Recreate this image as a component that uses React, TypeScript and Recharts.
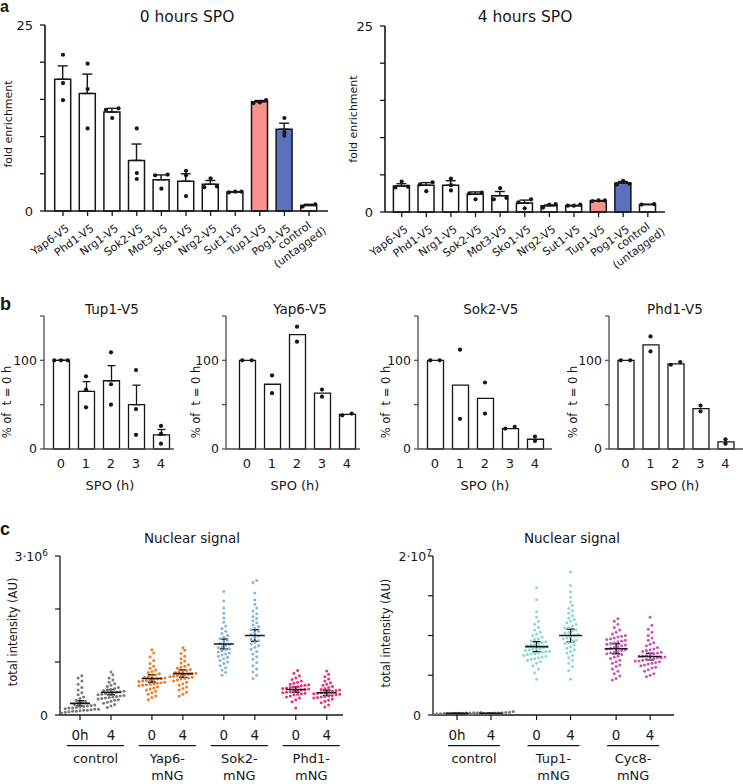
import React from 'react';
import { ComposedChart, ScatterChart, Bar, Scatter, XAxis, YAxis, ErrorBar, Cell } from 'recharts';

const FONT = '"DejaVu Sans", "Liberation Sans", Arial, sans-serif';
const INK = '#161616';
const AXIS_B = '#4a4a4a';

// ---- a: fold enrichment at 0 h and 4 h in SPO
const targets = ['Yap6-V5', 'Phd1-V5', 'Nrg1-V5', 'Sok2-V5', 'Mot3-V5', 'Sko1-V5', 'Nrg2-V5', 'Sut1-V5', 'Tup1-V5', 'Pog1-V5', 'control\n(untagged)'];
const mean0h = [17.7, 15.8, 13.3, 6.8, 4.2, 4.0, 3.6, 2.55, 14.7, 11.0, 0.75];
const sem0h = [1.8, 2.6, 0.5, 2.2, 0.65, 1.0, 0.5, 0.05, 0.15, 0.8, 0.15];
const reps0h = [[21.0, 17.2, 14.9], [19.8, 16.4, 11.1], [13.8, 13.6, 12.5], [11.1, 5.1, 4.3], [4.9, 4.8, 3.0], [5.4, 4.8, 2.0], [4.4, 3.3, 3.2], [2.6, 2.6, 2.5], [14.9, 14.6, 14.5], [12.5, 10.6, 10.1], [0.6, 0.9]];
const mean4h = [3.5, 3.6, 3.6, 2.4, 2.2, 1.2, 0.85, 0.85, 1.5, 3.9, 1.0];
const sem4h = [0.3, 0.35, 0.6, 0.3, 0.55, 0.4, 0.1, 0.05, 0.05, 0.2, 0.03];
const reps4h = [[4.1, 3.4, 3.3], [4.0, 3.7, 2.8], [4.5, 3.6, 2.9], [2.6, 2.5, 1.7], [3.2, 1.9, 1.7], [1.7, 1.3, 0.5], [0.6, 1.0, 1.05], [0.85, 1.0, 0.85], [1.45, 1.55, 1.55], [4.2, 3.8, 3.7], [1.0, 1.05]];

// ---- b: % of t = 0 h over SPO time course
const hours = ['0', '1', '2', '3', '4'];
const tup1Mean = [100, 65, 77, 50, 16];
const tup1Sem = [0, 11, 17, 22, 6];
const tup1Reps = [[100, 100, 100], [82, 67, 47], [109, 73, 50], [89, 45, 16], [26, 17, 6]];
const yap6Mean = [100, 73, 129, 63, 39];
const yap6Reps = [[100, 100], [83, 63], [138, 121], [67, 59], [38, 40]];
const sok2Mean = [100, 72, 57, 23, 11];
const sok2Reps = [[100, 100], [112, 34], [75, 40], [23, 25], [14, 9]];
const phd1Mean = [100, 117.5, 96, 45.5, 8];
const phd1Reps = [[100, 100], [127, 110], [95, 98], [49, 42.5], [11, 6]];

// ---- c: nuclear signal (values in units of 10^6)
const leftTicks = ['0h', '4', '0', '4', '0', '4', '0', '4'];
const leftGroups = ['control', 'Yap6-\nmNG', 'Sok2-\nmNG', 'Phd1-\nmNG'];
const leftMeans = [0.22, 0.43, 0.69, 0.78, 1.34, 1.5, 0.48, 0.42];
const leftSems = [0.05, 0.05, 0.07, 0.07, 0.094, 0.11, 0.05, 0.05];
const ctrl0 = [0.04, 0.05, 0.06, 0.07, 0.07, 0.08, 0.09, 0.09, 0.1, 0.11, 0.11, 0.12, 0.13, 0.13, 0.14, 0.15, 0.16, 0.17, 0.18, 0.19, 0.2, 0.22, 0.24, 0.26, 0.28, 0.31, 0.34, 0.38, 0.42, 0.47, 0.52, 0.58, 0.64, 0.7, 0.74];
const ctrl4 = [0.14, 0.17, 0.2, 0.22, 0.24, 0.26, 0.28, 0.29, 0.3, 0.31, 0.32, 0.33, 0.34, 0.35, 0.36, 0.37, 0.38, 0.39, 0.4, 0.41, 0.42, 0.43, 0.44, 0.45, 0.46, 0.47, 0.48, 0.5, 0.52, 0.54, 0.56, 0.59, 0.62, 0.66, 0.7, 0.76, 0.81];
const yap6c0 = [0.29, 0.33, 0.36, 0.39, 0.42, 0.45, 0.47, 0.49, 0.51, 0.53, 0.55, 0.56, 0.57, 0.58, 0.59, 0.6, 0.61, 0.62, 0.63, 0.64, 0.65, 0.66, 0.67, 0.68, 0.69, 0.7, 0.71, 0.72, 0.74, 0.76, 0.78, 0.8, 0.82, 0.85, 0.88, 0.92, 0.97, 1.03, 1.1, 1.17, 1.23];
const yap6c4 = [0.36, 0.39, 0.43, 0.47, 0.5, 0.53, 0.56, 0.59, 0.62, 0.64, 0.66, 0.68, 0.69, 0.7, 0.71, 0.72, 0.73, 0.74, 0.75, 0.76, 0.77, 0.78, 0.79, 0.8, 0.81, 0.82, 0.84, 0.86, 0.88, 0.9, 0.92, 0.95, 0.98, 1.02, 1.06, 1.11, 1.16, 1.22, 1.27];
const sok2c0 = [0.75, 0.8, 0.85, 0.89, 0.93, 0.97, 1.0, 1.03, 1.06, 1.09, 1.11, 1.13, 1.15, 1.17, 1.19, 1.21, 1.23, 1.25, 1.27, 1.29, 1.31, 1.33, 1.35, 1.38, 1.41, 1.44, 1.47, 1.5, 1.54, 1.58, 1.63, 1.68, 1.75, 1.83, 1.92, 2.02, 2.15, 2.33];
const sok2c4 = [0.69, 0.75, 0.81, 0.87, 0.93, 0.99, 1.05, 1.1, 1.15, 1.2, 1.24, 1.28, 1.31, 1.34, 1.37, 1.4, 1.43, 1.46, 1.49, 1.52, 1.55, 1.58, 1.61, 1.64, 1.67, 1.7, 1.74, 1.78, 1.82, 1.86, 1.91, 1.96, 2.02, 2.09, 2.17, 2.3, 2.5, 2.54];
const phd1c0 = [0.13, 0.25, 0.29, 0.32, 0.34, 0.36, 0.38, 0.39, 0.4, 0.41, 0.42, 0.43, 0.44, 0.45, 0.46, 0.47, 0.48, 0.49, 0.5, 0.51, 0.52, 0.53, 0.54, 0.55, 0.56, 0.57, 0.58, 0.6, 0.62, 0.64, 0.67, 0.7, 0.74, 0.79, 0.84];
const phd1c4 = [0.15, 0.19, 0.23, 0.26, 0.28, 0.3, 0.32, 0.33, 0.34, 0.35, 0.36, 0.37, 0.38, 0.39, 0.4, 0.41, 0.42, 0.43, 0.44, 0.45, 0.46, 0.47, 0.48, 0.5, 0.52, 0.54, 0.56, 0.58, 0.61, 0.64, 0.68, 0.72, 0.77, 0.83];

const rightTicks = ['0h', '4', '0', '4', '0', '4'];
const rightGroups = ['control', 'Tup1-\nmNG', 'Cyc8-\nmNG'];
const rightMeans = [0.2, 0.22, 8.6, 10.0, 8.33, 7.35];
const rightSems = [0.02, 0.02, 0.63, 0.8, 0.63, 0.42];
const ctrlR0 = [0.12, 0.15, 0.18, 0.2, 0.22, 0.24, 0.26, 0.28, 0.3, 0.19, 0.23, 0.27, 0.17, 0.21];
const ctrlR4 = [0.1, 0.13, 0.16, 0.19, 0.22, 0.25, 0.28, 0.31, 0.35, 0.45, 0.2, 0.24, 0.18];
const tup1c0 = [4.5, 5.3, 5.8, 6.2, 6.5, 6.7, 6.9, 7.0, 7.1, 7.2, 7.3, 7.4, 7.5, 7.6, 7.7, 7.7, 7.8, 7.9, 8.0, 8.0, 8.1, 8.2, 8.3, 8.3, 8.4, 8.5, 8.6, 8.7, 8.8, 8.9, 9.0, 9.1, 9.2, 9.3, 9.5, 9.6, 9.8, 10.0, 10.2, 10.4, 10.7, 11.0, 11.4, 11.8, 12.3, 13.0, 14.5, 16.0];
const tup1c4 = [4.5, 5.6, 6.1, 6.5, 6.9, 7.2, 7.5, 7.8, 8.0, 8.2, 8.4, 8.6, 8.8, 9.0, 9.1, 9.3, 9.4, 9.6, 9.7, 9.9, 10.0, 10.1, 10.3, 10.4, 10.6, 10.7, 10.9, 11.0, 11.2, 11.4, 11.6, 11.8, 12.0, 12.2, 12.5, 12.8, 13.1, 13.4, 13.8, 14.2, 14.8, 15.5, 16.3, 18.0];
const cyc8c0 = [4.4, 4.6, 4.9, 5.2, 5.5, 5.8, 6.1, 6.3, 6.5, 6.7, 6.9, 7.1, 7.3, 7.4, 7.6, 7.7, 7.8, 7.9, 8.0, 8.1, 8.2, 8.3, 8.4, 8.5, 8.6, 8.7, 8.8, 8.9, 9.0, 9.1, 9.2, 9.3, 9.4, 9.5, 9.6, 9.7, 9.8, 9.9, 10.0, 10.2, 10.4, 10.7, 11.0, 11.4, 11.8, 12.1];
const cyc8c4 = [4.8, 5.0, 5.2, 5.5, 5.7, 5.9, 6.0, 6.2, 6.3, 6.4, 6.5, 6.6, 6.7, 6.8, 6.8, 6.9, 7.0, 7.0, 7.1, 7.2, 7.2, 7.3, 7.4, 7.4, 7.5, 7.6, 7.7, 7.8, 7.9, 8.0, 8.1, 8.2, 8.3, 8.5, 8.7, 8.9, 9.1, 9.4, 9.7, 10.0, 10.4, 10.8, 11.3, 12.3];

const BAR_FILL: Record<string, string> = { 'Tup1-V5': '#f8928d', 'Pog1-V5': '#5b71bd' };
const LEFT_COLORS = ['#7a7a7a', '#7a7a7a', '#f07c2a', '#f07c2a', '#85b5dc', '#85b5dc', '#e6327a', '#e6327a'];
const RIGHT_COLORS = ['#7a7a7a', '#7a7a7a', '#88dbd0', '#88dbd0', '#c755b7', '#c755b7'];

// GraphPad-like scatter: points whose values fall in the same pixel row are spread sideways
function swarm(vals: number[], pxPerUnit: number, rowH: number, half: (n: number) => number) {
  const order = vals.map((_, i) => i).sort((a, b) => vals[a] - vals[b]);
  const dx = vals.map(() => 0);
  let row: number[] = [];
  let start = 0;
  const flush = () => {
    const n = row.length;
    const w = n > 1 ? half(n) : 0;
    row.forEach((id, k) => { dx[id] = n > 1 ? -w + (2 * w * k) / (n - 1) : 0; });
    row = [];
  };
  for (const id of order) {
    if (row.length && (vals[id] - start) * pxPerUnit >= rowH) flush();
    if (!row.length) start = vals[id];
    row.push(id);
  }
  flush();
  return dx;
}

function barRows(names: string[], means: number[], sems: number[] | null, reps: number[][], ppu: number, half: (n: number) => number) {
  return names.map((name, i) => {
    const dx = swarm(reps[i], ppu, 3.5, half);
    const row: any = { name, mean: means[i] };
    if (sems) row.err = [0, sems[i]];
    reps[i].forEach((v, k) => { row['r' + k] = v; row['d' + k] = dx[k]; });
    return row;
  });
}

const halfA = () => 6.3;
const halfB = (n: number) => (n === 2 ? 4.7 : 6.7);
const rowsA0 = barRows(targets, mean0h, sem0h, reps0h, 186 / 25, halfA);
const rowsA4 = barRows(targets, mean4h, sem4h, reps4h, 186 / 25, halfA);
const ppuB = 133 / 150;
const rowsTup1 = barRows(hours, tup1Mean, tup1Sem, tup1Reps, ppuB, halfB);
const rowsYap6 = barRows(hours, yap6Mean, null, yap6Reps, ppuB, halfB);
const rowsSok2 = barRows(hours, sok2Mean, null, sok2Reps, ppuB, halfB);
const rowsPhd1 = barRows(hours, phd1Mean, null, phd1Reps, ppuB, halfB);

const repDot = (k: number, r: number) => (p: any) => {
  const v = p.payload ? p.payload['r' + k] : undefined;
  if (v == null || !Number.isFinite(p.cy)) return <g />;
  return <circle cx={p.cx + p.payload['d' + k]} cy={p.cy} r={r} fill={INK} />;
};

function RotTick(p: any) {
  const { x, y, payload } = p;
  const lines = String(payload.value).split('\n');
  if (lines.length === 1) {
    return (
      <text transform={`translate(${x + 7},${y + 14}) rotate(-36)`} textAnchor="end" fontSize={11} fill={INK}>{lines[0]}</text>
    );
  }
  return (
    <text transform={`translate(${x + 3},${y + 11}) rotate(-36)`} textAnchor="end" fontSize={11} fill={INK}>
      <tspan x={0}>{lines[0]}</tspan>
      <tspan x={9} dy={13}>{lines[1]}</tspan>
    </text>
  );
}

function EnrichChart({ rows, plotW, pad }: any) {
  return (
    <ComposedChart width={40 + plotW + 5} height={256} data={rows} margin={{ top: 10, right: 5, bottom: 0, left: 0 }}>
      <XAxis dataKey="name" interval={0} height={60} padding={pad} tickSize={5} tickMargin={0}
        axisLine={{ stroke: INK, strokeWidth: 1.6 }} tickLine={{ stroke: INK, strokeWidth: 1.3 }}
        tick={(p: any) => <RotTick {...p} />} />
      <YAxis width={40} domain={[0, 25]} ticks={[0, 5, 10, 15, 20, 25]} interval={0} tickSize={5} tickMargin={7}
        tickFormatter={(v: number) => (v === 0 || v === 25 ? String(v) : '')}
        axisLine={{ stroke: INK, strokeWidth: 1.6 }} tickLine={{ stroke: INK, strokeWidth: 1.3 }}
        tick={{ fill: INK, fontSize: 13 }} />
      <Bar dataKey="mean" barSize={16} stroke={INK} strokeWidth={1.5} isAnimationActive={false}>
        {rows.map((r: any) => <Cell key={r.name} fill={BAR_FILL[r.name] ?? '#fff'} />)}
        <ErrorBar dataKey="err" width={5} stroke={INK} strokeWidth={1.4} />
      </Bar>
      {[0, 1, 2].map((k) => <Scatter key={k} dataKey={'r' + k} shape={repDot(k, 2.1)} isAnimationActive={false} />)}
    </ComposedChart>
  );
}

function TimeChart({ rows, plotW, pad, withErr }: any) {
  return (
    <ComposedChart width={38 + plotW} height={181} data={rows} margin={{ top: 8, right: 0, bottom: 0, left: 0 }}>
      <XAxis dataKey="name" interval={0} height={40} padding={pad} tickLine={false} tickSize={0} tickMargin={10}
        axisLine={{ stroke: AXIS_B, strokeWidth: 1.3 }} tick={{ fill: INK, fontSize: 13 }} />
      <YAxis width={38} domain={[0, 150]} ticks={[0, 50, 100, 150]} interval={0} tickSize={4} tickMargin={3}
        tickFormatter={(v: number) => (v === 0 || v === 100 ? String(v) : '')}
        axisLine={{ stroke: AXIS_B, strokeWidth: 1.3 }} tickLine={{ stroke: AXIS_B, strokeWidth: 1.2 }}
        tick={{ fill: INK, fontSize: 12.5 }} />
      <Bar dataKey="mean" barSize={16} fill="#fff" stroke={INK} strokeWidth={1.3} isAnimationActive={false}>
        {withErr && <ErrorBar dataKey="err" width={4} stroke={INK} strokeWidth={1.3} />}
      </Bar>
      {[0, 1, 2].map((k) => <Scatter key={k} dataKey={'r' + k} shape={repDot(k, 2.1)} isAnimationActive={false} />)}
    </ComposedChart>
  );
}

function GroupTick(p: any) {
  const { x, y, index, tickText, groups, unitPx, half } = p;
  const first = index % 2 === 0;
  const mid = x + unitPx / 2;
  const lines = first ? groups[index / 2].split('\n') : [];
  return (
    <g>
      <text x={x} y={y + 20} textAnchor="middle" fontSize={13.5} fill={INK}>{tickText[index]}</text>
      {first && <line x1={mid - half} x2={mid + half} y1={y + 25.7} y2={y + 25.7} stroke={INK} strokeWidth={1.2} />}
      {lines.map((l: string, k: number) => (
        <text key={k} x={mid} y={y + 43 + k * 17} textAnchor="middle" fontSize={13} fill={INK}>{l}</text>
      ))}
    </g>
  );
}

function PowTick(p: any) {
  const { x, y, payload, top, base, exp, shift } = p;
  if (payload.value === 0) return <text x={x} y={y + 4.5} textAnchor="end" fontSize={12.5} fill={INK}>0</text>;
  if (payload.value === top) {
    return (
      <text x={x + shift} y={y + 4.5} textAnchor="end" fontSize={12.5} fill={INK}>
        {base}·10<tspan dy={-5} fontSize={9}>{exp}</tspan>
      </text>
    );
  }
  return <g />;
}

const meanShape = (halfLen: number) => (p: any) => (
  <line x1={p.cx - halfLen} x2={p.cx + halfLen} y1={p.cy} y2={p.cy} stroke={INK} strokeWidth={1.6} />
);

function SignalChart({ sets, colors, means, sems, xOf, domX, plotW, rightPad, domY, ticksY, top, base, exp, shift, tickText, groups, unitPx, half, lineHalf }: any) {
  const ppu = 159 / domY;
  const xs = sets.map((_: any, i: number) => xOf(i));
  const meanRows = means.map((m: number, i: number) => ({ x: xs[i], y: m, sem: sems[i] }));
  return (
    <ScatterChart width={50 + plotW + rightPad} height={237} margin={{ top: 8, right: rightPad, bottom: 0, left: 0 }}>
      <XAxis type="number" dataKey="x" domain={[0, domX]} allowDataOverflow ticks={xs} interval={0} height={70}
        tickSize={5} tickMargin={0} axisLine={{ stroke: INK, strokeWidth: 1.3 }} tickLine={{ stroke: INK, strokeWidth: 1.2 }}
        tick={(p: any) => <GroupTick {...p} tickText={tickText} groups={groups} unitPx={unitPx} half={half} />} />
      <YAxis type="number" domain={[0, domY]} ticks={ticksY} interval={0} width={50} tickSize={5} tickMargin={7}
        axisLine={{ stroke: INK, strokeWidth: 1.3 }} tickLine={{ stroke: INK, strokeWidth: 1.2 }}
        tick={(p: any) => <PowTick {...p} top={top} base={base} exp={exp} shift={shift} />} />
      {sets.map((vals: number[], i: number) => {
        const dx = swarm(vals, ppu, 4, (n) => (n - 1) * 1.85);
        const pts = vals.map((v, k) => ({ x: xs[i], y: v, dx: dx[k] }));
        return (
          <Scatter key={i} data={pts} dataKey="y" isAnimationActive={false}
            shape={(p: any) => <circle cx={p.cx + p.payload.dx} cy={p.cy} r={1.5} fill={colors[i]} />} />
        );
      })}
      <Scatter data={meanRows} dataKey="y" isAnimationActive={false} shape={meanShape(lineHalf)}>
        <ErrorBar dataKey="sem" direction="y" width={4} stroke={INK} strokeWidth={1.4} />
      </Scatter>
    </ScatterChart>
  );
}

function Overlay() {
  const rot = (x: number, y: number) => `rotate(-90 ${x} ${y})`;
  return (
    <svg width={743} height={784} style={{ position: 'absolute', left: 0, top: 0, pointerEvents: 'none' }} fontFamily={FONT} fill={INK}>
      <g fontFamily='"Liberation Sans", Arial, sans-serif' fontWeight="bold">
        <text x={0} y={12} fontSize={16}>a</text>
        <text x={0} y={310} fontSize={18}>b</text>
        <text x={0} y={535} fontSize={18}>c</text>
      </g>
      <g fontSize={15.5} textAnchor="middle">
        <text x={187} y={22}>0 hours SPO</text>
        <text x={525} y={22}>4 hours SPO</text>
      </g>
      <g fontSize={11} textAnchor="middle">
        <text x={11.7} y={124} transform={rot(11.7, 124)}>fold enrichment</text>
        <text x={356.5} y={119} transform={rot(356.5, 119)}>fold enrichment</text>
      </g>
      <g fontSize={13.5} textAnchor="middle">
        <text x={112} y={314}>Tup1-V5</text>
        <text x={300} y={314}>Yap6-V5</text>
        <text x={490.7} y={314}>Sok2-V5</text>
        <text x={675} y={314}>Phd1-V5</text>
      </g>
      <g fontSize={13} textAnchor="middle">
        <text x={110} y={490}>SPO (h)</text>
        <text x={295} y={490}>SPO (h)</text>
        <text x={485} y={490}>SPO (h)</text>
        <text x={675} y={490}>SPO (h)</text>
      </g>
      <g fontSize={11.5} textAnchor="middle">
        {[11, 200, 390, 577].map((x) => (
          <text key={x} x={x} y={402} transform={rot(x, 402)} style={{ whiteSpace: 'pre' }}>{'% of  t = 0 h'}</text>
        ))}
      </g>
      <g fontSize={13.5} textAnchor="middle">
        <text x={192} y={543}>Nuclear signal</text>
        <text x={572} y={543}>Nuclear signal</text>
      </g>
      <g fontSize={11.5} textAnchor="middle">
        <text x={16.5} y={632} transform={rot(16.5, 632)}>total intensity (AU)</text>
        <text x={390} y={633} transform={rot(390, 633)}>total intensity (AU)</text>
      </g>
    </svg>
  );
}

const place = (left: number, top: number): React.CSSProperties => ({ position: 'absolute', left, top });

export default function App() {
  return (
    <div style={{ position: 'absolute', left: 0, top: 0, width: 743, height: 784, overflow: 'hidden', background: '#fff', fontFamily: FONT, color: INK }}>
      <div style={place(5, 15)}><EnrichChart rows={rowsA0} plotW={283} pad={{ left: 5.7, right: 6.7 }} /></div>
      <div style={place(345, 16)}><EnrichChart rows={rowsA4} plotW={280} pad={{ left: 4.4, right: 4.9 }} /></div>

      <div style={place(6, 308)}><TimeChart rows={rowsTup1} plotW={130} pad={{ left: 4.5, right: 0.5 }} withErr /></div>
      <div style={place(188, 308)}><TimeChart rows={rowsYap6} plotW={134} pad={{ left: 8.5, right: 0.5 }} /></div>
      <div style={place(380, 308)}><TimeChart rows={rowsSok2} plotW={134} pad={{ left: 4.5, right: 4.5 }} /></div>
      <div style={place(571, 308)}><TimeChart rows={rowsPhd1} plotW={134} pad={{ left: 4, right: 5 }} /></div>

      <div style={place(10, 548)}>
        <SignalChart sets={[ctrl0, ctrl4, yap6c0, yap6c4, sok2c0, sok2c4, phd1c0, phd1c4]} colors={LEFT_COLORS}
          means={leftMeans} sems={leftSems} xOf={(i: number) => 0.645 + 2.32 * Math.floor(i / 2) + (i % 2)}
          domX={283 / 31} plotW={283} rightPad={0} domY={3} ticksY={[0, 1, 2, 3]} top={3} base="3" exp="6" shift={0}
          tickText={leftTicks} groups={leftGroups} unitPx={31} half={28.5} lineHalf={10} />
      </div>
      <div style={place(383, 548)}>
        <SignalChart sets={[ctrlR0, ctrlR4, tup1c0, tup1c4, cyc8c0, cyc8c4]} colors={RIGHT_COLORS}
          means={rightMeans} sems={rightSems} xOf={(i: number) => 0.706 + 2.34 * Math.floor(i / 2) + (i % 2)}
          domX={241 / 34} plotW={241} rightPad={5} domY={20} ticksY={[0, 5, 10, 15, 20]} top={20} base="2" exp="7" shift={11}
          tickText={rightTicks} groups={rightGroups} unitPx={34} half={26} lineHalf={11.5} />
      </div>

      <Overlay />
    </div>
  );
}
